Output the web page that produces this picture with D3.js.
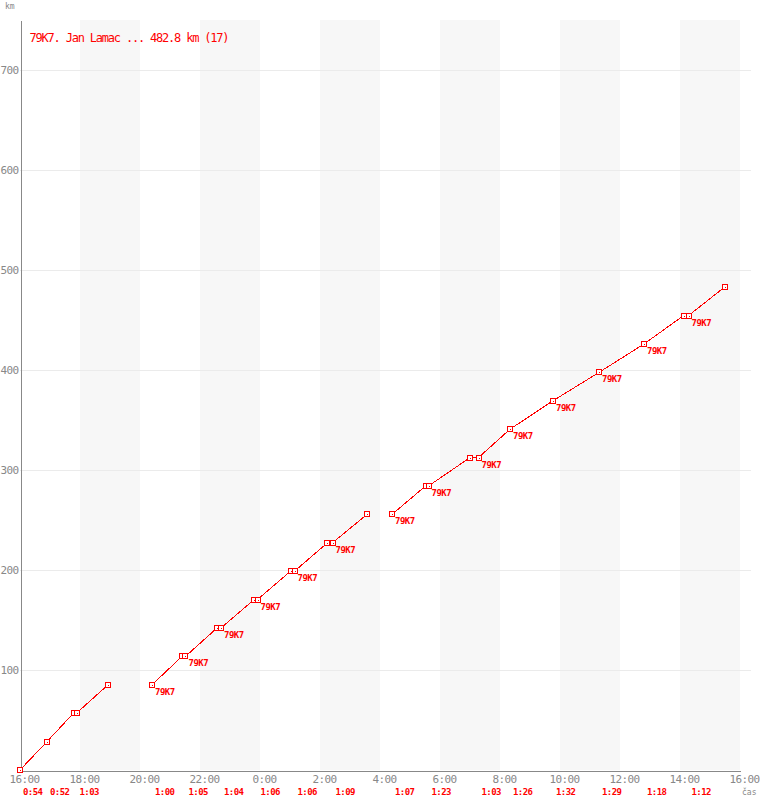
<!DOCTYPE html>
<html>
<head>
<meta charset="utf-8">
<script src="https://cdn.jsdelivr.net/npm/d3@7"></script>
<style>
  html, body { margin: 0; padding: 0; background: #fff; }
  svg { display: block; }
  text { font-family: "DejaVu Sans Mono", "Liberation Mono", monospace; }
</style>
</head>
<body>
<svg id="chart" width="760" height="800"></svg>
<script>
// ---- data ----
const titleText = "79K7. Jan Lamac ... 482.8 km (17)";
const pointTimes = ["16:00","16:54","17:47","17:53","18:56",
  "20:24","21:24","21:31","22:34","22:42","23:48","23:55","1:01","1:09","2:15","2:25","3:34",
  "4:24","5:31","5:37","7:00","7:17","8:20","9:46","11:18","12:48","14:07","14:17","15:29"];
const pointKm = [0,28.4,56.8,56.8,85.2,
  85.2,113.6,113.6,142,142,170.4,170.4,198.8,198.8,227.2,227.2,255.6,
  255.6,284,284,312.4,312.4,340.8,369.2,397.6,426,454.4,454.4,482.8];
const pointSegment = [0,0,0,0,0,
  1,1,1,1,1,1,1,1,1,1,1,1,
  2,2,2,2,2,2,2,2,2,2,2,2];
const pointLabel = ["","","","","",
  "79K7","","79K7","","79K7","","79K7","","79K7","","79K7","",
  "79K7","","79K7","","79K7","79K7","79K7","79K7","79K7","","79K7",""];
const lapStarts = ["16:00","16:54","17:53","20:24","21:31","22:42","23:55","1:09","2:25",
  "4:24","5:37","7:17","8:20","9:46","11:18","12:48","14:17"];
const lapDurations = ["0:54","0:52","1:03","1:00","1:05","1:04","1:06","1:06","1:09",
  "1:07","1:23","1:03","1:26","1:32","1:29","1:18","1:12"];
const yTicks = [100,200,300,400,500,600,700];
const xTickHours = [16,18,20,22,0,2,4,6,8,10,12,14,16];
const bandStartHours = [18,22,2,6,10,14];

// ---- helpers ----
function toDate(str) {
  const [h, m] = str.split(":").map(Number);
  const day = h < 16 ? 2 : 1;
  return new Date(2000, 0, day, h, m);
}
const t0 = new Date(2000, 0, 1, 16, 0);
const t1 = new Date(2000, 0, 2, 16, 0);

const svg = d3.select("#chart");
const x = d3.scaleTime().domain([t0, t1]).range([20, 740]);
const y = d3.scaleLinear().domain([0, 750]).range([770, 20]);

const red = "#ff0000";
const gray = "#888888";

// bands
svg.append("g").selectAll("rect").data(bandStartHours).join("rect")
  .attr("x", d => x(toDate(d + ":00")))
  .attr("y", y(750))
  .attr("width", d => x(new Date(toDate(d + ":00").getTime() + 2 * 3600e3)) - x(toDate(d + ":00")))
  .attr("height", y(0) - y(750))
  .attr("fill", "#f7f7f7")
  .attr("shape-rendering", "crispEdges");

// gridlines
svg.append("g").selectAll("line").data(yTicks).join("line")
  .attr("x1", 20).attr("x2", 751)
  .attr("y1", d => Math.round(y(d)) + 0.5).attr("y2", d => Math.round(y(d)) + 0.5)
  .attr("stroke", "#ebebeb").attr("stroke-width", 1)
  .attr("shape-rendering", "crispEdges");

// axes
const yAxis = d3.axisLeft(y).tickValues(yTicks).tickSize(0).tickPadding(2);
const gy = svg.append("g").attr("transform", "translate(20.5,0)").call(yAxis);
gy.select(".domain").attr("stroke", gray).attr("shape-rendering", "crispEdges");
gy.selectAll("text").attr("fill", gray).attr("font-size", "11px")
  .attr("letter-spacing", "-0.6px").attr("font-family", "'DejaVu Sans Mono', monospace")
  .attr("x", -2).attr("dy", "0.35em");

const xTickDates = xTickHours.map((h, i) => i === xTickHours.length - 1 ? t1 : toDate(h + ":00"));
const xAxis = d3.axisBottom(x).tickValues(xTickDates).tickSize(0).tickPadding(5)
  .tickFormat(d3.timeFormat("%-H:%M"));
const gx = svg.append("g").attr("transform", "translate(0,770.5)").call(xAxis);
gx.select(".domain").attr("stroke", gray).attr("shape-rendering", "crispEdges");
gx.selectAll("text").attr("fill", gray).attr("font-size", "11px")
  .attr("letter-spacing", "-0.6px").attr("font-family", "'DejaVu Sans Mono', monospace")
  .attr("dx", "4").attr("dy", "0.71em");

// axis unit labels
svg.append("text").attr("x", 5).attr("y", 9).text("km")
  .attr("fill", gray).attr("font-size", "8px");
svg.append("text").attr("x", 742).attr("y", 795).text("čas")
  .attr("fill", gray).attr("font-size", "8px");

// points
const pts = pointTimes.map((t, i) => ({
  t: toDate(t), km: pointKm[i], seg: pointSegment[i], label: pointLabel[i]
}));
const segs = d3.groups(pts, d => d.seg).map(g => g[1]);

const line = d3.line().x(d => x(d.t)).y(d => y(d.km));
svg.append("g").selectAll("path").data(segs).join("path")
  .attr("d", line)
  .attr("fill", "none").attr("stroke", red).attr("stroke-width", 1)
  .attr("shape-rendering", "crispEdges");

const mk = svg.append("g").selectAll("g").data(pts).join("g")
  .attr("transform", d => `translate(${Math.round(x(d.t))},${Math.round(y(d.km))})`);
mk.append("rect").attr("x", -2.5).attr("y", -2.5).attr("width", 5).attr("height", 5)
  .attr("fill", "#fff").attr("stroke", red).attr("stroke-width", 1)
  .attr("shape-rendering", "crispEdges");
mk.append("rect").attr("x", -0.5).attr("y", -0.5).attr("width", 1).attr("height", 1)
  .attr("fill", red).attr("shape-rendering", "crispEdges");

// point labels
svg.append("g").selectAll("text").data(pts.filter(d => d.label)).join("text")
  .attr("x", d => x(d.t) + 3)
  .attr("y", d => y(d.km) + 10)
  .text(d => d.label)
  .attr("fill", red).attr("font-size", "9px").attr("font-weight", "bold")
  .attr("letter-spacing", "-0.5px");

// lap duration labels
svg.append("g").selectAll("text").data(lapDurations).join("text")
  .attr("x", (d, i) => x(toDate(lapStarts[i])) + 3)
  .attr("y", 795)
  .text(d => d)
  .attr("fill", red).attr("font-size", "9px").attr("font-weight", "bold")
  .attr("letter-spacing", "-0.6px");

// title
svg.append("text").attr("x", 29.5).attr("y", 42).text(titleText)
  .attr("fill", red).attr("font-size", "12px").attr("letter-spacing", "-1.2px");
</script>
</body>
</html>
